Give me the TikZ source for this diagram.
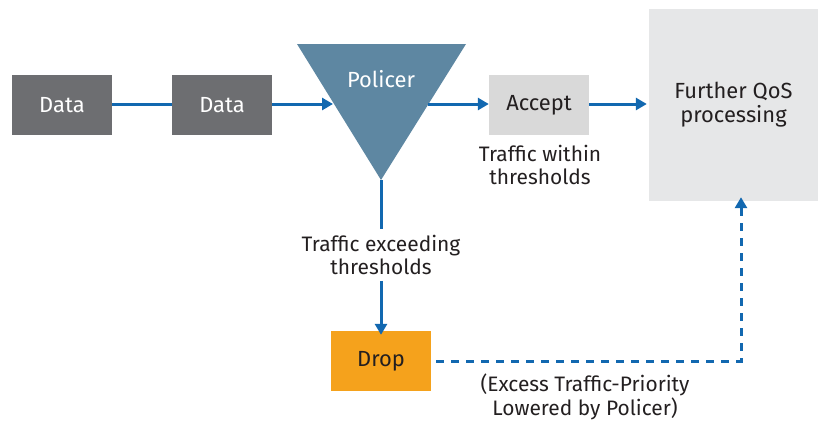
\documentclass[tikz,border=0pt]{standalone}
\usepackage{fontspec}
\setmainfont{Fira Sans}
\usetikzlibrary{arrows.meta}
\definecolor{flowblue}{HTML}{1268B0}
\definecolor{datagrey}{HTML}{6D6E71}
\definecolor{polblue}{HTML}{5E87A2}
\definecolor{accgrey}{HTML}{D9D9D9}
\definecolor{furgrey}{HTML}{E6E7E8}
\definecolor{droporange}{HTML}{F5A21C}
\definecolor{txt}{HTML}{231F20}
\begin{document}
\begin{tikzpicture}[x=1bp,y=-1bp,
  box/.style={draw=none,minimum width=100bp,minimum height=60bp,inner sep=0pt,font=\fontsize{22}{24}\selectfont},
  databox/.style={box,fill=datagrey,text=white},
  flow/.style={draw=flowblue,line width=3bp},
  flowarrow/.style={flow,-{Triangle[length=11bp,width=12bp]}},
  lbl/.style={align=center,text=txt,font=\fontsize{21}{24}\selectfont}]
\useasboundingbox (0,0) rectangle (818,421);
\node[databox] (d1) at (62,105) {Data};
\node[databox] (d2) at (222,105) {Data};
\fill[polblue] (297,44) -- (466,44) -- (381,180) -- cycle;
\coordinate (pin) at (333,104);
\coordinate (pout) at (428,104);
\coordinate (papex) at (381,180);
\node[text=white,font=\fontsize{22}{24}\selectfont] (pol) at (381,79) {Policer};
\node[box,fill=accgrey,text=txt] (acc) at (539,105) {Accept};
\node[box,fill=furgrey,text=txt,minimum width=169bp,minimum height=192bp,align=center] (fur) at (733.5,105) {Further QoS\\processing};
\node[box,fill=droporange,text=txt] (drop) at (381,361) {Drop};
\node[lbl] (within) at (540,165) {Traffic within\\thresholds};
\node[lbl] (exceed) at (381,255) {Traffic exceeding\\thresholds};
\node[lbl] (excess) at (585,397) {(Excess Traffic-Priority\\Lowered by Policer)};
\coordinate (corner) at (741,361);
\draw[flow] (d1.east |- 0,104) -- (d2.west |- 0,104);
\draw[flowarrow] (d2.east |- 0,104) -- (pin);
\draw[flowarrow] (pout) -- (acc.west |- 0,104);
\draw[flowarrow] (acc.east |- 0,104) -- ([xshift=-2bp]fur.west |- 0,104);
\draw[flow] (papex) -- ([yshift=2bp]exceed.north -| papex);
\draw[flowarrow] ([yshift=-2bp]exceed.south -| papex) -- ([yshift=-4bp]drop.north);
\draw[flow,dash pattern=on 8bp off 7bp,-{Triangle[length=11bp,width=12bp]}] ([xshift=5bp]drop.east) -- (corner) -- ([yshift=4bp]fur.south -| corner);
\end{tikzpicture}
\end{document}
